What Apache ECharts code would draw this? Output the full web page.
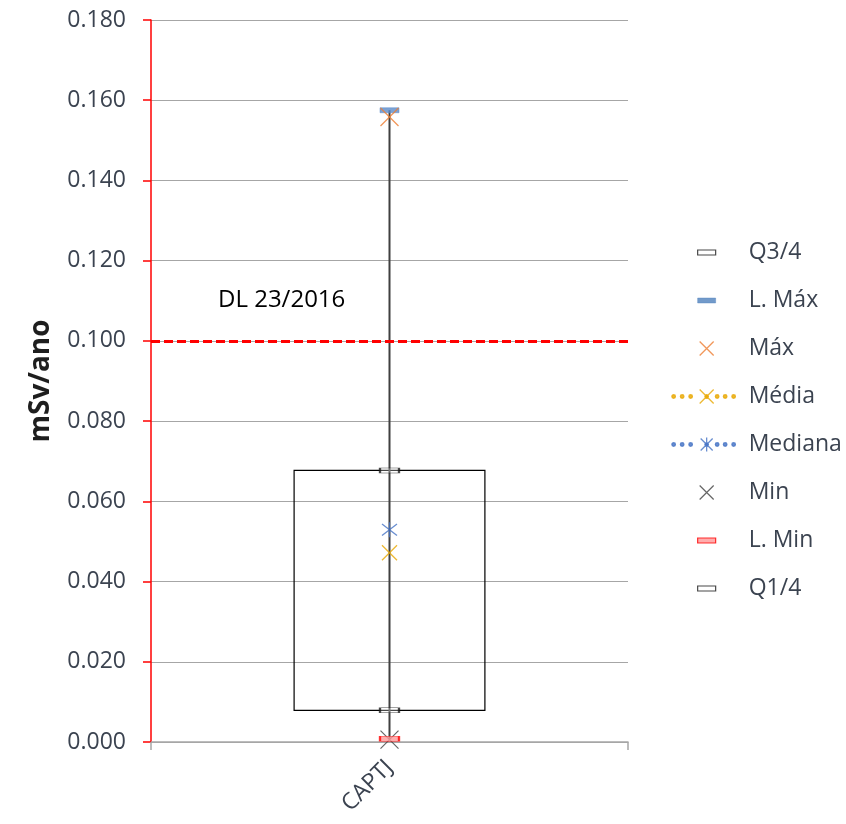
<!DOCTYPE html>
<html>
<head>
<meta charset="utf-8">
<script src="https://cdn.jsdelivr.net/npm/echarts@6/dist/echarts.min.js"></script>
<style>
  html, body { margin: 0; padding: 0; background: #fff; }
  #chart { width: 846px; height: 824px; }
</style>
</head>
<body>
<div id="chart"></div>
<script>
// Dose statistics (mSv/ano) per sampling point
const categories = ['CAPTJ'];
const q1Values = [0.0079];
const q3Values = [0.0677];
const limMaxValues = [0.1575];
const maxValues = [0.1558];
const meanValues = [0.0472];
const medianValues = [0.0529];
const minValues = [0.0006];
const limMinValues = [0.0008];
const dlLimit = 0.1;
const dlLabel = 'DL 23/2016';
const yMin = 0, yMax = 0.18, yStep = 0.02;

const FONT = '"Open Sans", "Noto Sans", sans-serif';
const TEXT = '#3B4350';

// Stroked marker shapes
const crossPath = 'path://M0,0L10,10M10,0L0,10';
const starPath = 'path://M0,0L10,10M10,0L0,10M5,-1.5L5,11.5';

// Legend icons (72x14 extent so every icon lines up)
const box = 'path://M0,0M72,14';
function dot(cx) {
  return 'M' + (cx - 1.8) + ',7a1.8,1.8 0 1,0 3.6,0a1.8,1.8 0 1,0 -3.6,0';
}
const dots = [2, 10.5, 19, 45.5, 53.5, 62].map(dot).join('');
const iconRect = box + 'M26,4.5h18v5h-18z';
const iconCross = box + 'M28,0L42,14M42,0L28,14';
const iconDotCross = box + dots + dot(35) + 'M28,0L42,14M42,0L28,14';
const iconDotStar = box + dots + dot(35) + 'M29,1L41,13M41,1L29,13M35,0L35,14';

function pairs(values) {
  return values.map((v, i) => [categories[i], v]);
}

function markerSeries(name, values, symbol, size, style, z) {
  return {
    name, type: 'scatter', data: pairs(values), symbol, symbolSize: size,
    itemStyle: style, z: z || 5, silent: true
  };
}

const chart = echarts.init(document.getElementById('chart'), null, { renderer: 'canvas' });

chart.setOption({
  animation: false,
  backgroundColor: '#ffffff',
  grid: { left: 151, right: 218, top: 20, bottom: 82 },
  legend: {
    orient: 'vertical',
    left: 666,
    top: 236,
    itemWidth: 72,
    itemHeight: 14,
    itemGap: 25,
    selectedMode: false,
    textStyle: { fontFamily: FONT, fontSize: 23, color: TEXT },
    data: [
      { name: 'Q3/4', icon: iconRect, itemStyle: { color: '#ffffff', borderColor: '#1a1a1a', borderWidth: 1.2 } },
      { name: 'L. Máx', icon: iconRect, itemStyle: { color: '#4F81BD', borderColor: '#4F81BD', borderWidth: 0.5 } },
      { name: 'Máx', icon: iconCross, itemStyle: { borderWidth: 1.3 } },
      { name: 'Média', icon: iconDotCross, itemStyle: { borderWidth: 1.3 } },
      { name: 'Mediana', icon: iconDotStar, itemStyle: { borderWidth: 1.3 } },
      { name: 'Min', icon: iconCross, itemStyle: { borderWidth: 1.2 } },
      { name: 'L. Min', icon: iconRect, itemStyle: { color: '#FF9999', borderColor: '#FF0000', borderWidth: 1.2 } },
      { name: 'Q1/4', icon: iconRect, itemStyle: { color: '#ffffff', borderColor: '#1a1a1a', borderWidth: 1.2 } }
    ]
  },
  xAxis: {
    type: 'category',
    data: categories,
    boundaryGap: true,
    axisLine: { lineStyle: { color: '#A6A6A6', width: 1.5 } },
    axisTick: { show: true, length: 8, lineStyle: { color: '#A6A6A6', width: 1.5 } },
    axisLabel: { rotate: 45, margin: 22, fontFamily: FONT, fontSize: 23, color: TEXT },
    splitLine: { show: false }
  },
  yAxis: {
    type: 'value',
    min: yMin, max: yMax, interval: yStep,
    name: 'mSv/ano',
    nameLocation: 'middle',
    nameGap: 96,
    nameRotate: 90,
    nameTextStyle: { fontFamily: FONT, fontSize: 28, fontWeight: 'bold', color: '#1E1E1E' },
    axisLine: { show: true, onZero: false, lineStyle: { color: '#FF0000', width: 1.5 } },
    axisTick: { show: true, length: 8, lineStyle: { color: '#FF0000', width: 1.5 } },
    axisLabel: { margin: 25, fontFamily: FONT, fontSize: 23, color: TEXT, formatter: v => v.toFixed(3) },
    splitLine: { show: true, lineStyle: { color: '#A6A6A6', width: 1.2 } }
  },
  series: [
    {
      // Interquartile box and whisker
      name: 'box', type: 'custom', silent: true, z: 2,
      data: categories.map((c, i) => [i, q1Values[i], q3Values[i], limMinValues[i], limMaxValues[i]]),
      encode: { x: 0, y: [1, 2, 3, 4] },
      renderItem(params, api) {
        const x = api.value(0);
        const pQ1 = api.coord([x, api.value(1)]);
        const pQ3 = api.coord([x, api.value(2)]);
        const pLo = api.coord([x, api.value(3)]);
        const pHi = api.coord([x, api.value(4)]);
        const w = api.size([1, 0])[0] * 0.4;
        return {
          type: 'group',
          children: [
            {
              type: 'rect',
              shape: { x: pQ3[0] - w / 2, y: pQ3[1], width: w, height: pQ1[1] - pQ3[1] },
              style: { fill: 'none', stroke: '#000000', lineWidth: 1.2 }
            },
            {
              type: 'line',
              shape: { x1: pLo[0], y1: pLo[1], x2: pHi[0], y2: pHi[1] },
              style: { stroke: '#404040', lineWidth: 2 }
            }
          ]
        };
      },
      markLine: {
        silent: true,
        symbol: ['none', 'none'],
        lineStyle: { color: '#FF0000', type: [9, 4], width: 3 },
        label: {
          show: true,
          position: 'insideStartTop',
          distance: [67, 29],
          formatter: dlLabel,
          fontFamily: FONT, fontSize: 24, color: '#000000'
        },
        data: [{ yAxis: dlLimit }]
      }
    },
    markerSeries('Q3/4', q3Values, 'rect', [19, 5], { color: 'rgba(255,255,255,0.35)', borderColor: '#1a1a1a', borderWidth: 1.2 }),
    markerSeries('L. Máx', limMaxValues, 'rect', [19, 5], { color: '#5B8BC9', borderColor: '#5B8BC9', borderWidth: 0.5 }),
    markerSeries('Máx', maxValues, crossPath, 18, { color: '#ED7D31', borderColor: '#ED7D31', borderWidth: 1.3 }, 6),
    markerSeries('Média', meanValues, crossPath, 15, { color: '#E8A800', borderColor: '#E8A800', borderWidth: 1.3 }),
    markerSeries('Mediana', medianValues, starPath, 15, { color: '#4472C4', borderColor: '#4472C4', borderWidth: 1.3 }),
    markerSeries('Min', minValues, crossPath, 18, { color: '#404040', borderColor: '#404040', borderWidth: 1.2 }),
    markerSeries('L. Min', limMinValues, 'rect', [19, 5], { color: '#FF9999', borderColor: '#FF0000', borderWidth: 1.2 }, 6),
    markerSeries('Q1/4', q1Values, 'rect', [19, 5], { color: 'rgba(255,255,255,0.35)', borderColor: '#1a1a1a', borderWidth: 1.2 })
  ]
});
</script>
</body>
</html>
